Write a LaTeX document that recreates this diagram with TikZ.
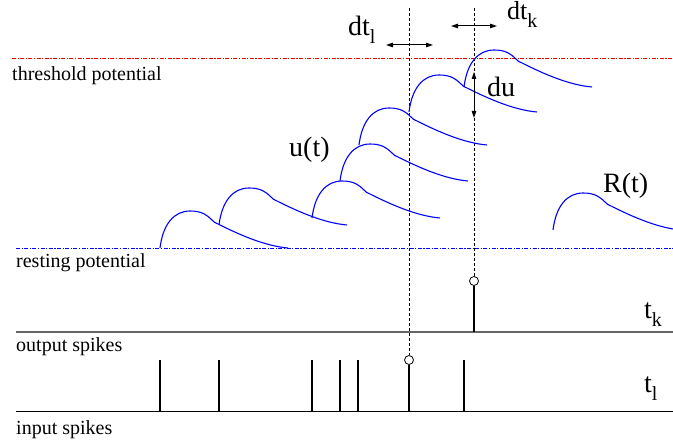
\documentclass[tikz,border=0pt]{standalone}
\usepackage{fontspec}
\setmainfont{Liberation Serif}
\usetikzlibrary{arrows.meta}
\newcommand\mysub[1]{\raisebox{-8pt}{\fontsize{20}{24}\selectfont #1}}
\begin{document}
\begin{tikzpicture}[x=1pt,y=-1pt,
  pspline/.style={blue, line width=1.1pt},
  thr/.style={red!90!black, line width=1pt, dash pattern=on 4pt off 1.5pt on 1.2pt off 1.5pt},
  rest/.style={blue, line width=1pt, dash pattern=on 4pt off 1.5pt on 1.2pt off 1.5pt},
  guide/.style={black, line width=0.8pt, dash pattern=on 3pt off 2pt},
  spike/.style={black, line width=1.8pt},
  baseline/.style={line width=1pt},
  ring/.style={circle, draw, minimum size=9pt, inner sep=0pt, line width=0.8pt},
  dbl/.style={line width=1pt, {Triangle[length=7pt,width=4.5pt]}-{Triangle[length=7pt,width=4.5pt]}},
  lab/.style={font=\fontsize{20}{24}\selectfont, anchor=base west, inner sep=0pt},
  big/.style={font=\fontsize{28}{32}\selectfont, anchor=base west, inner sep=0pt},
  psp/.pic={\draw[pspline] (0,0) .. controls (3,-24) and (14,-37) .. (30,-37) .. controls (42,-37) and (47,-33) .. (52,-28) .. controls (54,-26) and (55,-25) .. (58,-24) .. controls (80,-13) and (105,-2) .. (128,0);}
]
\useasboundingbox (0,0) rectangle (673,444);

% potential levels
\coordinate (th0) at (12,59);  \coordinate (th1) at (673,59);
\coordinate (rs0) at (16,248); \coordinate (rs1) at (673,248);
\draw[thr] (th0) -- (th1);
\draw[rest] (rs0) -- (rs1);

% spike baselines
\coordinate (ob0) at (16,332); \coordinate (ob1) at (673,332);
\coordinate (ib0) at (16,411); \coordinate (ib1) at (673,411);
\draw[baseline, black!60, line width=1.5pt] (ob0) -- (ob1);
\draw[baseline] (ib0) -- (ib1);

% input spikes
\foreach \x [count=\i] in {160,219,312,340,358,464}{
  \coordinate (it\i) at (\x,360);
  \coordinate (ib\i) at (\x,411);
  \draw[spike] (it\i) -- (ib\i);
}

% marked spikes and guides
\node[ring] (cl) at (409,360) {};
\node[ring] (ck) at (474,281) {};
\coordinate (gl) at (409,8);
\coordinate (gk) at (474,8);
\coordinate (bl) at (409,411);
\coordinate (bk) at (474,332);
\draw[guide] (gl) -- (cl.north);
\draw[guide] (gk) -- (ck.north);
\draw[spike] (cl.south) -- (bl);
\draw[spike] (ck.south) -- (bk);

% membrane potential
\pic at (160,248) {psp};
\pic at (219,225) {psp};
\pic at (312,218) {psp};
\pic at (340,181) {psp};
\pic at (359,145) {psp};
\pic at (409,112) {psp};
\pic at (464,87) {psp};
\pic at (553,230) {psp};

% arrows
\coordinate (al0) at (386,45); \coordinate (al1) at (433,45);
\coordinate (ak0) at (451,26); \coordinate (ak1) at (497,26);
\coordinate (du0) at (474,72); \coordinate (du1) at (474,118);
\draw[dbl] (al0) -- (al1);
\draw[dbl] (ak0) -- (ak1);
\draw[dbl] (du0) -- (du1);

% texts
\node[lab] (tthr) at (12,81) {threshold potential};
\node[lab] (trest) at (16,267) {resting potential};
\node[lab] (tout) at (16,351) {output spikes};
\node[lab] (tin) at (16,434) {input spikes};
\node[big] (tu) at (289,157) {u(t)};
\node[big] (tR) at (603,193) {R(t)};
\node[big] (tdu) at (487,97) {du};
\node[big] (tdtl) at (348,36) {dt\mysub{l}};
\node[big, font=\fontsize{26}{30}\selectfont] (tdtk) at (507,20) {dt\mysub{k}};
\node[big] (ttk) at (644,318) {t\mysub{k}};
\node[big] (ttl) at (644,392) {t\mysub{l}};
\end{tikzpicture}
\end{document}
